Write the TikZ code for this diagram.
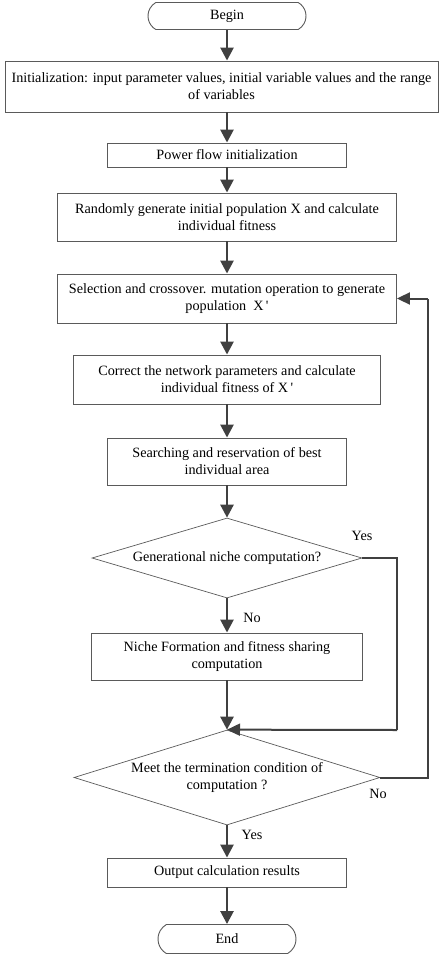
\documentclass[tikz,border=0pt]{standalone}
\usepackage{fontspec}
\setmainfont{Liberation Serif}
\usetikzlibrary{shapes.geometric,shapes.misc,arrows.meta}
\definecolor{ln}{HTML}{404040}
\definecolor{bx}{HTML}{5A5A5A}
\begin{document}
\begin{tikzpicture}[x=1pt,y=-1pt,
  every node/.style={font=\fontsize{14.2}{17}\selectfont, align=center, inner sep=0pt},
  box/.style={draw=bx, line width=0.9pt, rectangle},
  term/.style={draw=bx, line width=0.9pt, rounded rectangle, rounded rectangle arc length=120},
  dec/.style={draw=bx, line width=0.7pt, diamond},
  flow/.style={draw=ln, line width=2.6pt, -{Triangle[length=13pt,width=13pt]}},
  loopline/.style={draw=ln, line width=2pt},
  lbl/.style={font=\fontsize{14.2}{16}\selectfont}
]
\useasboundingbox (0,0) rectangle (439,955);
\node[term, minimum width=158pt, minimum height=27pt] (begin) at (227,16) {Begin};
\node[box, minimum width=433pt, minimum height=51pt] (init) at (221.5,86.5)
  {Initialization: input parameter values, initial variable values and the range\\of variables};
\node[box, minimum width=239pt, minimum height=24pt] (power) at (227,155) {Power flow initialization};
\node[box, minimum width=339pt, minimum height=48pt] (rand) at (227,217)
  {Randomly generate initial population X and calculate\\individual fitness};
\node[box, minimum width=339pt, minimum height=49pt] (sel) at (227,298.5)
  {Selection and crossover. mutation operation to generate\\population\ \ X\,\textquotesingle};
\node[box, minimum width=307pt, minimum height=49pt] (corr) at (227,379.5)
  {Correct the network parameters and calculate\\individual fitness of X\,\textquotesingle};
\node[box, minimum width=239pt, minimum height=47pt] (search) at (227,461.5)
  {Searching and reservation of best\\individual area};
\node[dec, shape aspect=3.4, minimum width=270pt, minimum height=80pt] (d1) at (227,558)
  {Generational niche computation?};
\node[box, minimum width=271pt, minimum height=47pt] (niche) at (227,656.5)
  {Niche Formation and fitness sharing\\computation};
\node[dec, shape aspect=3.2, minimum width=306pt, minimum height=95pt] (d2) at (227,777.5)
  {Meet the termination condition of\\computation ?};
\node[box, minimum width=239pt, minimum height=29pt] (out) at (227,872.5) {Output calculation results};
\node[term, minimum width=138pt, minimum height=29pt] (end) at (227,939) {End};

\draw[flow] (begin.south) -- (init.north -| begin.south);
\draw[flow] (init.south -| begin.south) -- (power.north);
\draw[flow] (power.south) -- (rand.north);
\draw[flow] (rand.south) -- (sel.north);
\draw[flow] (sel.south) -- (corr.north);
\draw[flow] (corr.south) -- (search.north);
\draw[flow] (search.south) -- (d1.north);
\draw[flow] (d1.south) -- (niche.north);
\draw[flow] (niche.south) -- (d2.north);
\draw[flow] (d2.south) -- (out.north);
\draw[flow] (out.south) -- (end.north);

\coordinate (ya) at (397,558);
\coordinate (yb) at (397,730);
\draw[loopline] (d1.east) -- (ya) -- (yb);
\draw[loopline, -{Triangle[length=13pt,width=12pt]}] (yb) -- (d2.north);

\coordinate (fa) at (428,777.5);
\coordinate (fb) at (428,298.5);
\draw[loopline] (d2.east) -- (fa) -- (fb);
\draw[loopline, -{Triangle[length=13pt,width=12pt]}] (fb) -- (sel.east);

\node[lbl] (yes1) at (362,536) {Yes};
\node[lbl] (no1) at (252,618) {No};
\node[lbl] (no2) at (378,794) {No};
\node[lbl] (yes2) at (252,835) {Yes};
\end{tikzpicture}
\end{document}
